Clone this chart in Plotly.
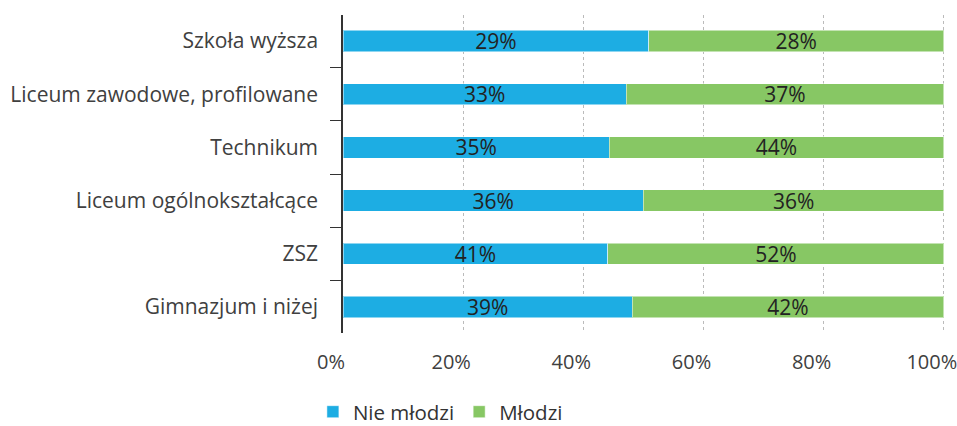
import plotly.graph_objects as go

categories = ["Szkoła wyższa", "Liceum zawodowe, profilowane", "Technikum",
              "Liceum ogólnokształcące", "ZSZ", "Gimnazjum i niżej"]
nie_mlodzi = [29, 33, 35, 36, 41, 39]
mlodzi = [28, 37, 44, 36, 52, 42]
x_ticks = [0, 20, 40, 60, 80, 100]
x_tick_labels = ["0%", "20%", "40%", "60%", "80%", "100%"]

FONT = "Open Sans"
BLUE = "#1DADE3"
GREEN = "#87C764"

fig = go.Figure()
for name, vals, col in [("Nie młodzi", nie_mlodzi, BLUE), ("Młodzi", mlodzi, GREEN)]:
    fig.add_trace(go.Bar(
        y=categories, x=vals, name=name, orientation="h",
        marker=dict(color=col, line=dict(color="rgba(255,255,255,0.5)", width=1)),
        text=[f"{v}%" for v in vals], textposition="inside",
        insidetextanchor="middle", textangle=0, constraintext="none",
        textfont=dict(family=FONT, size=21, color="#222222"),
        hoverinfo="skip",
    ))

fig.update_layout(
    barmode="stack", barnorm="percent", bargap=0.6,
    width=957, height=426,
    margin=dict(l=343, r=12, t=15, b=93, autoexpand=False),
    paper_bgcolor="white", plot_bgcolor="white",
    font=dict(family=FONT, size=21, color="#404040"),
    showlegend=True,
    legend=dict(orientation="h", x=-0.05, xanchor="left", y=-0.248, yanchor="middle",
                font=dict(family=FONT, size=20.5, color="#333333"),
                itemwidth=30, traceorder="normal"),
)
fig.update_xaxes(
    range=[0, 100.2], tickvals=x_ticks, ticktext=x_tick_labels,
    showgrid=True, gridcolor="#BBBBBB", griddash="dot", gridwidth=1,
    zeroline=False, showline=False, automargin=False,
    ticks="outside", ticklen=11, tickcolor="rgba(0,0,0,0)",
    ticklabeloverflow="allow", ticklabelshift=-12,
    tickfont=dict(family=FONT, size=20, color="#404040"),
)
fig.update_yaxes(
    categoryorder="array", categoryarray=categories,
    range=[5.49, -0.49], automargin=False,
    showline=True, linecolor="#333333", linewidth=1.5,
    ticks="outside", tickson="boundaries", ticklen=11, tickcolor="#333333",
    ticklabelstandoff=19,
    showgrid=False,
    tickfont=dict(family=FONT, size=21, color="#404040"),
)

fig.write_html("out.html", config={"displayModeBar": False},
               post_script="document.body.style.margin='0';document.body.style.overflow='hidden';")
